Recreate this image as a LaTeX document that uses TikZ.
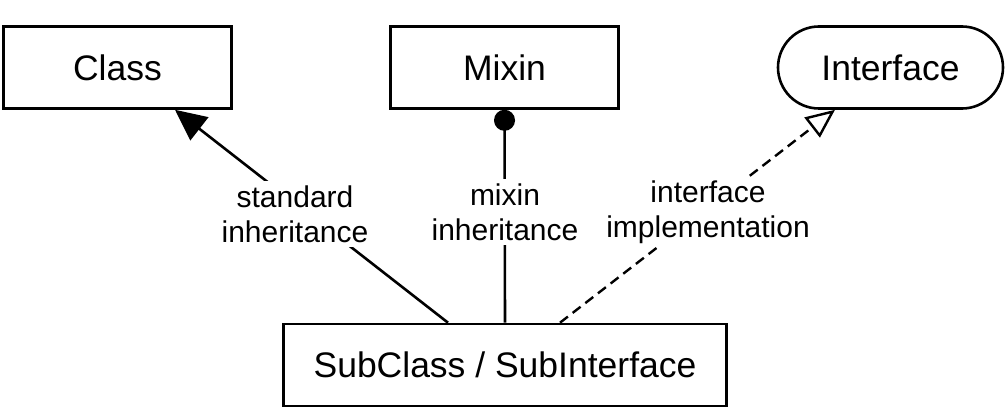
\documentclass[tikz,border=0pt]{standalone}
\usepackage{fontspec}
\setmainfont{Liberation Sans}
\usetikzlibrary{arrows.meta}
\begin{document}
\begin{tikzpicture}[x=1pt,y=-1pt,
  box/.style={draw, line width=2.6pt, minimum height=82pt, inner sep=0pt,
    font=\fontsize{35.5}{42}\selectfont},
  lbl/.style={fill=white, align=center, inner sep=4pt,
    font=\fontsize{30}{35}\selectfont},
  conn/.style={line width=2.6pt},
  dashconn/.style={line width=2.4pt, dash pattern=on 10pt off 6pt}]
\useasboundingbox (0,0) rectangle (1005,409);
\node[box, minimum width=228pt] (class) at (117.5,67.5) {Class};
\node[box, minimum width=228pt] (mixin) at (504.5,67.5) {Mixin};
\node[box, minimum width=225pt, rounded corners=41pt] (iface) at (890.5,67.5) {Interface};
\node[box, minimum width=443pt] (sub) at (505,365) {SubClass / SubInterface};
\draw[conn, -{Triangle[length=31pt,width=29pt]}] ([xshift=-57pt]sub.north) -- ([xshift=57.5pt]class.south);
\draw[conn, -{Circle[length=21pt,width=21pt]}] (sub.north) -- (mixin.south);
\draw[dashconn, -{Triangle[open,length=29pt,width=25pt,line width=2.4pt]}] ([xshift=55pt]sub.north) -- ([xshift=-55.5pt]iface.south);
\node[lbl] (l1) at (295,214) {standard\\inheritance};
\node[lbl] (l2) at (505,212) {mixin\\inheritance};
\node[lbl] (l3) at (708,212) {interface\\implementation};
\end{tikzpicture}
\end{document}
